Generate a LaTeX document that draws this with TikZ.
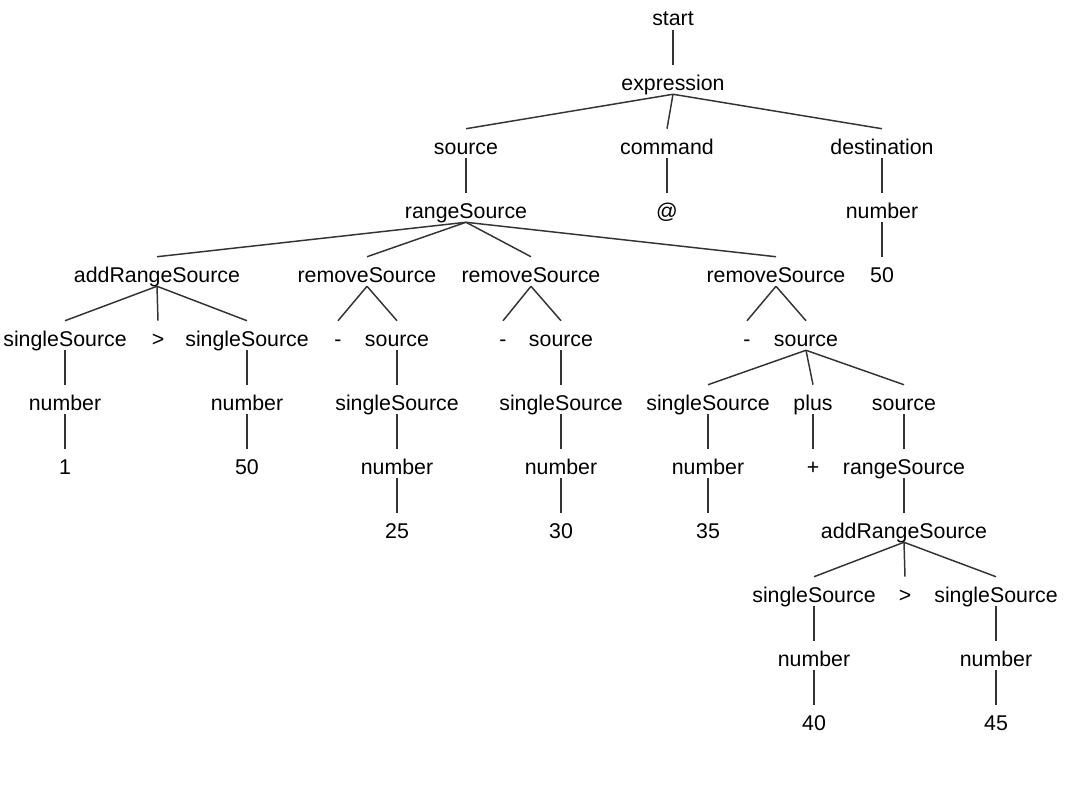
\documentclass[tikz,border=0pt]{standalone}
\usepackage{fontspec}
\setmainfont{Liberation Sans}
\usepackage{tikz}
\usepackage{xcolor}

\begin{document}
\begin{tikzpicture}[x=0.75pt, y=-0.75pt,
    tn/.style={anchor=base, inner sep=0pt, text height=18.75pt, text depth=3pt,
        font=\fontsize{16}{19}\selectfont},
    edge/.style={line width=1.1pt, color=black!80}]
    \useasboundingbox (0,0) rectangle (1089,785);
    % levels
    \node[tn] (start) at (673,26) {start};
    \node[tn] (expr) at (673,90) {expression};
    \node[tn] (src) at (466,154) {source};
    \node[tn] (cmd) at (667,154) {command};
    \node[tn] (dst) at (882,154) {destination};
    \node[tn] (rs) at (466,218) {rangeSource};
    \node[tn] (at) at (667,218) {@};
    \node[tn] (dnum) at (882,218) {number};
    \node[tn] (ars) at (157,282) {addRangeSource};
    \node[tn] (rmA) at (367,282) {removeSource};
    \node[tn] (rmB) at (531,282) {removeSource};
    \node[tn] (rmC) at (776,282) {removeSource};
    \node[tn] (dval) at (882,282) {50};
    \node[tn] (ssA) at (65,346) {singleSource};
    \node[tn] (gtA) at (158,346) {>};
    \node[tn] (ssB) at (247,346) {singleSource};
    \node[tn] (minA) at (338,346) {-};
    \node[tn] (srcA) at (397,346) {source};
    \node[tn] (minB) at (503,346) {-};
    \node[tn] (srcB) at (561,346) {source};
    \node[tn] (minC) at (747,346) {-};
    \node[tn] (srcC) at (806,346) {source};
    \node[tn] (numA) at (65,410) {number};
    \node[tn] (numB) at (247,410) {number};
    \node[tn] (ssC) at (397,410) {singleSource};
    \node[tn] (ssD) at (561,410) {singleSource};
    \node[tn] (ssE) at (708,410) {singleSource};
    \node[tn] (plus) at (813,410) {plus};
    \node[tn] (srcD) at (904,410) {source};
    \node[tn] (vA) at (65,474) {1};
    \node[tn] (vB) at (247,474) {50};
    \node[tn] (numC) at (397,474) {number};
    \node[tn] (numD) at (561,474) {number};
    \node[tn] (numE) at (708,474) {number};
    \node[tn] (pl) at (813,474) {+};
    \node[tn] (rsB) at (904,474) {rangeSource};
    \node[tn] (vC) at (397,538) {25};
    \node[tn] (vD) at (561,538) {30};
    \node[tn] (vE) at (708,538) {35};
    \node[tn] (arsB) at (904,538) {addRangeSource};
    \node[tn] (ssF) at (814,602) {singleSource};
    \node[tn] (gtB) at (905,602) {>};
    \node[tn] (ssG) at (996,602) {singleSource};
    \node[tn] (numF) at (814,666) {number};
    \node[tn] (numG) at (996,666) {number};
    \node[tn] (vF) at (814,730) {40};
    \node[tn] (vG) at (996,730) {45};
    % edges
    \foreach \p/\c in {start/expr, expr/src, expr/cmd, expr/dst, src/rs, cmd/at,
        dst/dnum, dnum/dval, rs/ars, rs/rmA, rs/rmB, rs/rmC,
        ars/ssA, ars/gtA, ars/ssB, ssA/numA, numA/vA, ssB/numB, numB/vB,
        rmA/minA, rmA/srcA, srcA/ssC, ssC/numC, numC/vC,
        rmB/minB, rmB/srcB, srcB/ssD, ssD/numD, numD/vD,
        rmC/minC, rmC/srcC, srcC/ssE, srcC/plus, srcC/srcD,
        ssE/numE, numE/vE, plus/pl, srcD/rsB, rsB/arsB,
        arsB/ssF, arsB/gtB, arsB/ssG, ssF/numF, numF/vF, ssG/numG, numG/vG}
        \draw[edge] (\p.south) -- (\c.north);
\end{tikzpicture}
\end{document}
